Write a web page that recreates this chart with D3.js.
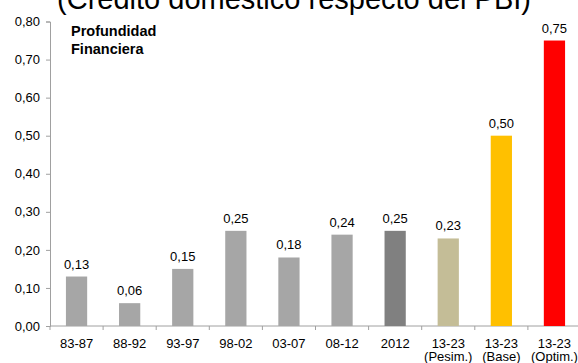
<!DOCTYPE html>
<html>
<head>
<meta charset="utf-8">
<script src="https://cdn.jsdelivr.net/npm/d3@7"></script>
<style>
  html, body { margin: 0; padding: 0; background: #fff; }
  svg { display: block; font-family: "Liberation Sans", Arial, sans-serif; }
</style>
</head>
<body>
<svg id="chart" width="578" height="363"></svg>
<script>
// Periods on the x axis (line 1 and optional line 2)
const periods = ["83-87", "88-92", "93-97", "98-02", "03-07", "08-12", "2012", "13-23", "13-23", "13-23"];
const periodNotes = ["", "", "", "", "", "", "", "(Pesim.)", "(Base)", "(Optim.)"];
// Domestic credit as share of GDP
const depth = [0.13, 0.06, 0.15, 0.25, 0.18, 0.24, 0.25, 0.23, 0.50, 0.75];
const barColors = ["#A6A6A6", "#A6A6A6", "#A6A6A6", "#A6A6A6", "#A6A6A6", "#A6A6A6",
                   "#808080", "#C4BD97", "#FFC000", "#FF0000"];
const yTicks = [0, 0.1, 0.2, 0.3, 0.4, 0.5, 0.6, 0.7, 0.8];

const svg = d3.select("#chart");
const fmt = v => d3.format(".2f")(v).replace(".", ",");
const FS = 13;

const x = d3.scaleBand().domain(d3.range(periods.length)).range([50, 581]).paddingInner(0.6).paddingOuter(0.3);
const y = d3.scaleLinear().domain([0, 0.8]).range([326, 21.5]);

// Title (partly above the visible area)
svg.append("text")
  .attr("x", 294).attr("y", 9)
  .attr("text-anchor", "middle")
  .attr("font-size", 29)
  .attr("fill", "#000")
  .text("(Credito domestico respecto del PBI)");

// Y axis
const yAxis = d3.axisLeft(y).tickValues(yTicks).tickFormat(fmt).tickSize(4).tickSizeOuter(4);
const gy = svg.append("g").attr("transform", "translate(50,0)").call(yAxis);
gy.select(".domain").attr("stroke", "#A0A0A0");
gy.selectAll(".tick line").attr("stroke", "#A0A0A0");
gy.selectAll(".tick text").attr("font-size", FS).attr("fill", "#000").attr("x", -10)
  .attr("font-family", "Liberation Sans, Arial, sans-serif");

// X axis baseline with tick marks between categories
const step = x.step();
const bounds = d3.range(periods.length + 1).map(i => 50 + i * step);
svg.append("line").attr("x1", 50).attr("x2", 581).attr("y1", y(0)).attr("y2", y(0))
  .attr("stroke", "#A0A0A0");
svg.selectAll(".xtick").data(bounds).join("line")
  .attr("class", "xtick")
  .attr("x1", d => d).attr("x2", d => d)
  .attr("y1", y(0)).attr("y2", y(0) + 4)
  .attr("stroke", "#A0A0A0");

// Bars
svg.selectAll(".bar").data(depth).join("rect")
  .attr("class", "bar")
  .attr("x", (d, i) => x(i))
  .attr("width", x.bandwidth())
  .attr("y", d => y(d))
  .attr("height", d => y(0) - y(d))
  .attr("fill", (d, i) => barColors[i]);

// Value labels
svg.selectAll(".val").data(depth).join("text")
  .attr("class", "val")
  .attr("x", (d, i) => x(i) + x.bandwidth() / 2)
  .attr("y", d => y(d) - 8)
  .attr("text-anchor", "middle")
  .attr("font-size", FS)
  .attr("fill", "#000")
  .text(fmt);

// Category labels
const cx = i => x(i) + x.bandwidth() / 2;
svg.selectAll(".cat").data(periods).join("text")
  .attr("class", "cat")
  .attr("x", (d, i) => cx(i))
  .attr("y", 348)
  .attr("text-anchor", "middle")
  .attr("font-size", FS)
  .attr("fill", "#000")
  .text(d => d);
svg.selectAll(".note").data(periodNotes).join("text")
  .attr("class", "note")
  .attr("x", (d, i) => cx(i))
  .attr("y", 361)
  .attr("text-anchor", "middle")
  .attr("font-size", FS)
  .attr("fill", "#000")
  .text(d => d);

// Inset caption
const cap = svg.append("text").attr("font-size", 14.5).attr("font-weight", "bold").attr("fill", "#000");
cap.append("tspan").attr("x", 71).attr("y", 36).text("Profundidad");
cap.append("tspan").attr("x", 71).attr("y", 54).text("Financiera");
</script>
</body>
</html>
